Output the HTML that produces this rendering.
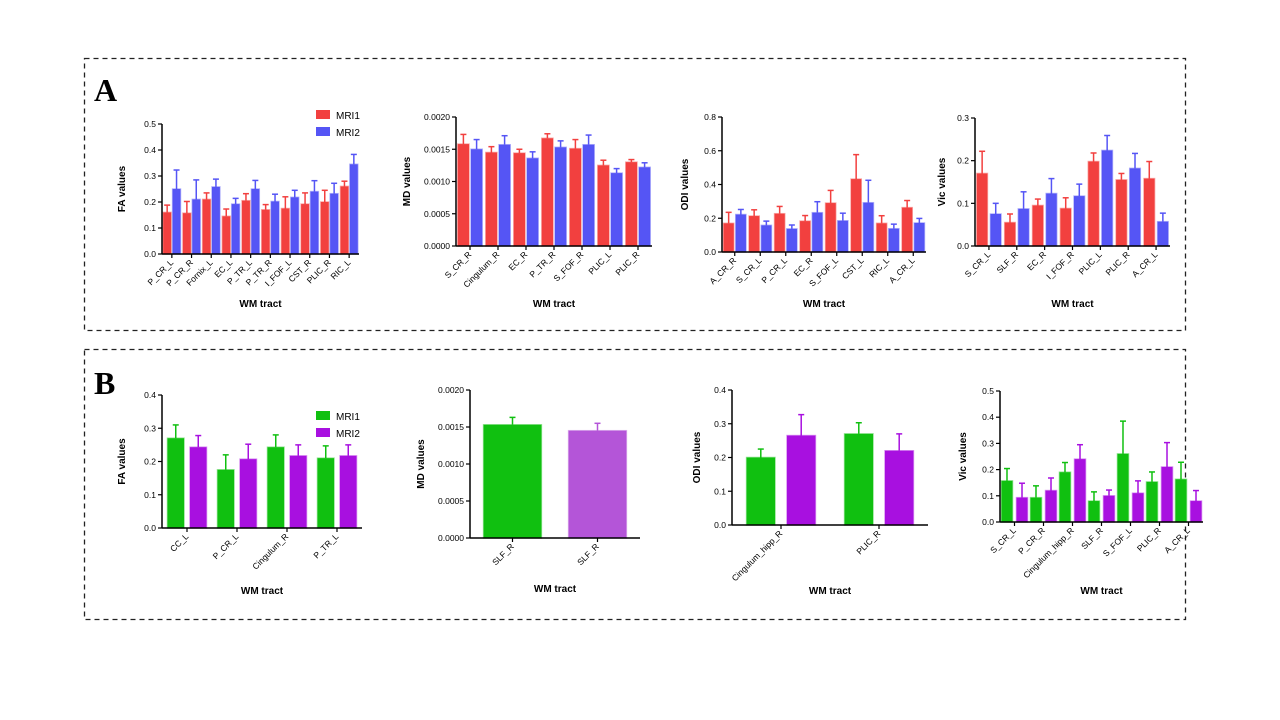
<!DOCTYPE html>
<html><head><meta charset="utf-8">
<style>
body{margin:0;background:#fff;}
svg{display:block;font-family:"Liberation Sans",Arial,sans-serif;}
</style></head>
<body>
<svg id="fig" width="1280" height="720" viewBox="0 0 1280 720">
<rect x="84.5" y="58.5" width="1101" height="272" fill="none" stroke="#222" stroke-width="1.3" stroke-dasharray="5,4"/>
<rect x="84.5" y="349.5" width="1101" height="270" fill="none" stroke="#222" stroke-width="1.3" stroke-dasharray="5,4"/>
<text x="94" y="101" font-family="Liberation Serif,serif" font-weight="bold" font-size="32">A</text>
<text x="94" y="394" font-family="Liberation Serif,serif" font-weight="bold" font-size="32">B</text>
<g>
<rect x="316" y="110" width="14" height="9" fill="#f2403f"/>
<text x="336" y="119" font-size="10">MRI1</text>
<rect x="316" y="127" width="14" height="9" fill="#5555f5"/>
<text x="336" y="136" font-size="10">MRI2</text>
</g>
<g>
<rect x="316" y="411" width="14" height="9" fill="#10c010"/>
<text x="336" y="420" font-size="10">MRI1</text>
<rect x="316" y="428" width="14" height="9" fill="#a810e0"/>
<text x="336" y="437" font-size="10">MRI2</text>
</g>
</svg>
<script>
// ---- Chart data ----
const aFaCats=["P_CR_L","P_CR_R","Fornix_L","EC_L","P_TR_L","P_TR_R","I_FOF_L","CST_R","PLIC_R","RIC_L"];
const aFaMri1=[0.16,0.157,0.21,0.145,0.205,0.17,0.175,0.192,0.2,0.26];
const aFaMri1Err=[0.028,0.045,0.025,0.028,0.027,0.02,0.045,0.043,0.045,0.02];
const aFaMri2=[0.25,0.21,0.258,0.192,0.25,0.202,0.218,0.24,0.232,0.345];
const aFaMri2Err=[0.073,0.075,0.03,0.022,0.033,0.028,0.027,0.042,0.04,0.038];
const aFaTicks=["0.0","0.1","0.2","0.3","0.4","0.5"];

const aMdCats=["S_CR_R","Cingulum_R","EC_R","P_TR_R","S_FOF_R","PLIC_L","PLIC_R"];
const aMdMri1=[0.00158,0.00145,0.00144,0.00167,0.00151,0.00125,0.0013];
const aMdMri1Err=[0.00015,0.00009,0.00006,0.00007,0.00014,0.00008,0.00004];
const aMdMri2=[0.0015,0.00157,0.00136,0.00153,0.00157,0.00113,0.00122];
const aMdMri2Err=[0.00015,0.00014,0.0001,0.0001,0.00015,0.00007,0.00007];
const aMdTicks=["0.0000","0.0005","0.0010","0.0015","0.0020"];

const aOdiCats=["A_CR_R","S_CR_L","P_CR_L","EC_R","S_FOF_L","CST_L","RIC_L","A_CR_L"];
const aOdiMri1=[0.17,0.213,0.227,0.183,0.29,0.432,0.17,0.263];
const aOdiMri1Err=[0.065,0.037,0.043,0.033,0.075,0.145,0.045,0.042];
const aOdiMri2=[0.222,0.158,0.137,0.233,0.185,0.292,0.138,0.172];
const aOdiMri2Err=[0.03,0.025,0.023,0.065,0.045,0.133,0.027,0.027];
const aOdiTicks=["0.0","0.2","0.4","0.6","0.8"];

const aVicCats=["S_CR_L","SLF_R","EC_R","I_FOF_R","PLIC_L","PLIC_R","A_CR_L"];
const aVicMri1=[0.17,0.055,0.095,0.088,0.198,0.155,0.158];
const aVicMri1Err=[0.052,0.02,0.015,0.025,0.02,0.015,0.04];
const aVicMri2=[0.075,0.087,0.123,0.117,0.224,0.182,0.057];
const aVicMri2Err=[0.025,0.04,0.035,0.028,0.035,0.035,0.02];
const aVicTicks=["0.0","0.1","0.2","0.3"];

const bFaCats=["CC_L","P_CR_L","Cingulum_R","P_TR_L"];
const bFaMri1=[0.27,0.175,0.243,0.21];
const bFaMri1Err=[0.04,0.045,0.037,0.037];
const bFaMri2=[0.243,0.207,0.217,0.217];
const bFaMri2Err=[0.035,0.045,0.033,0.033];
const bFaTicks=["0.0","0.1","0.2","0.3","0.4"];

const bMdCats=["SLF_R","SLF_R"];
const bMdVals=[0.00153,0.00145];
const bMdErr=[0.0001,0.0001];
const bMdTicks=["0.0000","0.0005","0.0010","0.0015","0.0020"];

const bOdiCats=["Cingulum_hipp_R","PLIC_R"];
const bOdiMri1=[0.2,0.27];
const bOdiMri1Err=[0.025,0.033];
const bOdiMri2=[0.265,0.22];
const bOdiMri2Err=[0.062,0.05];
const bOdiTicks=["0.0","0.1","0.2","0.3","0.4"];

const bVicCats=["S_CR_L","P_CR_R","Cingulum_hipp_R","SLF_R","S_FOF_L","PLIC_R","A_CR_L"];
const bVicMri1=[0.157,0.093,0.19,0.08,0.26,0.153,0.163];
const bVicMri1Err=[0.047,0.045,0.037,0.035,0.125,0.038,0.065];
const bVicMri2=[0.093,0.12,0.24,0.1,0.11,0.21,0.08];
const bVicMri2Err=[0.055,0.048,0.055,0.022,0.047,0.093,0.04];
const bVicTicks=["0.0","0.1","0.2","0.3","0.4","0.5"];

const NS="http://www.w3.org/2000/svg";
const fig=document.getElementById('fig');
function mk(tag,attrs,parent){const e=document.createElementNS(NS,tag);for(const k in attrs)e.setAttribute(k,attrs[k]);(parent||fig).appendChild(e);return e;}

function chart(o){
  const g=mk('g',{});
  
  
  const ymax=parseFloat(o.ticks[o.ticks.length-1]);
  const ys=v=>o.bottom-(v/ymax)*(o.bottom-o.top);
  const n=o.cats.length, gw=(o.right-o.x)/n;
  const xc=i=>o.x+gw*(i+0.5);
  const ns=o.series.length;
  o.series.forEach((s,si)=>{
    s.vals.forEach((v,i)=>{
      const bw=gw*o.bf;
      const off=ns===1?-bw/2:(si===0?-bw-o.gap/2:o.gap/2);
      const bx=xc(i)+off;
      const col=s.colors?s.colors[i]:s.color;
      const ey=ys(v+s.err[i]);
      const l=mk('line',{x1:bx+bw/2,x2:bx+bw/2,y1:ys(v),y2:ey,stroke:col,'stroke-width':1.5},g);
      
      
      const c=mk('line',{x1:bx+bw/2-3,x2:bx+bw/2+3,y1:ey,y2:ey,stroke:col,'stroke-width':1.5},g);
      
      
      const r=mk('rect',{x:bx,y:ys(v),width:bw,height:o.bottom-ys(v),fill:col,stroke:s.stroke||col,'stroke-opacity':0.45,'stroke-width':1.5},g);
      
      
    });
  });
  const ya=mk('line',{x1:o.x,x2:o.x,y1:o.top,y2:o.bottom,stroke:'#000','stroke-width':1.5},g);
  
  
  const xa=mk('line',{x1:o.x,x2:o.right,y1:o.bottom,y2:o.bottom,stroke:'#000','stroke-width':1.5},g);
  
  
  o.ticks.forEach(t=>{
    const y=ys(parseFloat(t));
    mk('line',{x1:o.x-4,x2:o.x,y1:y,y2:y,stroke:'#000','stroke-width':1.2},g);
    const tx=mk('text',{x:o.x-6,y:y+3,'font-size':8.5,'text-anchor':'end'},g);
    tx.textContent=t;
    
    
  });
  o.cats.forEach((c,i)=>{
    const x=xc(i);
    mk('line',{x1:x,x2:x,y1:o.bottom,y2:o.bottom+4,stroke:'#000','stroke-width':1.2},g);
    const tx=mk('text',{x:x+2,y:o.bottom+9,'font-size':8.5,'text-anchor':'end',transform:`rotate(-45 ${x+2} ${o.bottom+9})`},g);
    tx.textContent=c;
    
    
  });
  const yt=mk('text',{x:o.ytx,y:(o.top+o.bottom)/2,'font-size':10,'font-weight':'bold','text-anchor':'middle',transform:`rotate(-90 ${o.ytx} ${(o.top+o.bottom)/2})`},g);
  yt.textContent=o.ytitle;
  
  
  const xt=mk('text',{x:(o.x+o.right)/2,y:o.xty,'font-size':10,'font-weight':'bold','text-anchor':'middle'},g);
  xt.textContent='WM tract';
  
  
}
const R='#f2403f',B='#5555f5',G='#10c010',P='#a810e0';
chart({name:'chart-a-fa',x:162,right:359,top:124,bottom:254,ticks:aFaTicks,cats:aFaCats,bf:0.4,gap:1.5,ytx:125,xty:307,ytitle:'FA values',
  series:[{id:'mri1',vals:aFaMri1,err:aFaMri1Err,color:R},{id:'mri2',vals:aFaMri2,err:aFaMri2Err,color:B}]});
chart({name:'chart-a-md',x:456,right:652,top:117,bottom:246,ticks:aMdTicks,cats:aMdCats,bf:0.4,gap:2,ytx:410,xty:307,ytitle:'MD values',
  series:[{id:'mri1',vals:aMdMri1,err:aMdMri1Err,color:R},{id:'mri2',vals:aMdMri2,err:aMdMri2Err,color:B}]});
chart({name:'chart-a-odi',x:722,right:926,top:117,bottom:252,ticks:aOdiTicks,cats:aOdiCats,bf:0.4,gap:2,ytx:688,xty:307,ytitle:'ODI values',
  series:[{id:'mri1',vals:aOdiMri1,err:aOdiMri1Err,color:R},{id:'mri2',vals:aOdiMri2,err:aOdiMri2Err,color:B}]});
chart({name:'chart-a-vic',x:975,right:1170,top:118,bottom:246,ticks:aVicTicks,cats:aVicCats,bf:0.38,gap:3,ytx:945,xty:307,ytitle:'Vic values',
  series:[{id:'mri1',vals:aVicMri1,err:aVicMri1Err,color:R},{id:'mri2',vals:aVicMri2,err:aVicMri2Err,color:B}]});
chart({name:'chart-b-fa',x:162,right:362,top:395,bottom:528,ticks:bFaTicks,cats:bFaCats,bf:0.33,gap:6,ytx:125,xty:594,ytitle:'FA values',
  series:[{id:'mri1',vals:bFaMri1,err:bFaMri1Err,color:G},{id:'mri2',vals:bFaMri2,err:bFaMri2Err,color:P}]});
chart({name:'chart-b-md',x:470,right:640,top:390,bottom:538,ticks:bMdTicks,cats:bMdCats,bf:0.68,gap:0,ytx:424,xty:592,ytitle:'MD values',
  series:[{id:'value',vals:bMdVals,err:bMdErr,colors:[G,'#b455d8']}]});
chart({name:'chart-b-odi',x:732,right:928,top:390,bottom:525,ticks:bOdiTicks,cats:bOdiCats,bf:0.29,gap:12,ytx:700,xty:594,ytitle:'ODI values',
  series:[{id:'mri1',vals:bOdiMri1,err:bOdiMri1Err,color:G},{id:'mri2',vals:bOdiMri2,err:bOdiMri2Err,color:P}]});
chart({name:'chart-b-vic',x:1000,right:1203,top:391,bottom:522,ticks:bVicTicks,cats:bVicCats,bf:0.38,gap:4,ytx:966,xty:594,ytitle:'Vic values',
  series:[{id:'mri1',vals:bVicMri1,err:bVicMri1Err,color:G},{id:'mri2',vals:bVicMri2,err:bVicMri2Err,color:P}]});
</script>
</body></html>
